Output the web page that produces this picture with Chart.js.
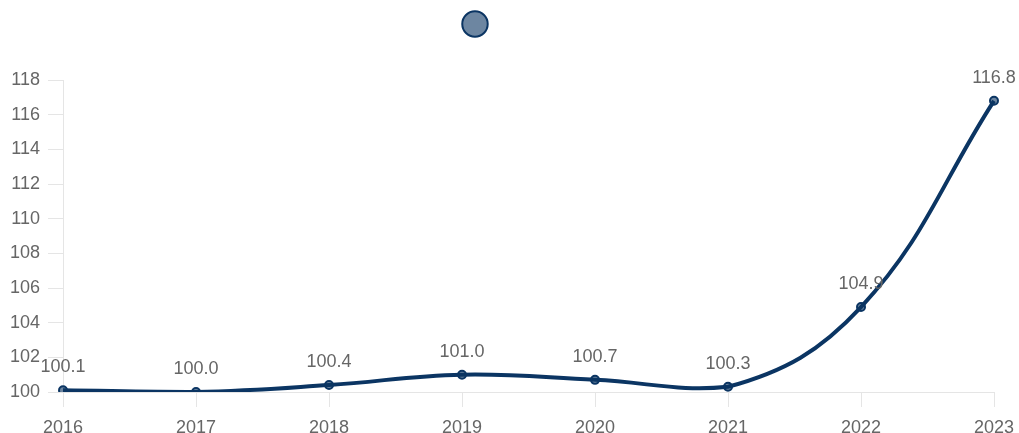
<!DOCTYPE html>
<html>
<head>
<meta charset="utf-8">
<script src="https://cdn.jsdelivr.net/npm/chart.js@4/dist/chart.umd.min.js"></script>
<style>
  html, body { margin: 0; padding: 0; background: #fff; }
  #wrap { width: 1019px; height: 433px; }
</style>
</head>
<body>
<div id="wrap"><canvas id="myChart"></canvas></div>
<script>
// données
const years = ["2016", "2017", "2018", "2019", "2020", "2021", "2022", "2023"];
const values = [100.1, 100.0, 100.4, 101.0, 100.7, 100.3, 104.9, 116.8];
const seriesName = "Volume"; // texte de légende invisible (blanc)

const navy = "#0b3563";
const fontFam = "'Liberation Sans', Arial, sans-serif";

// étiquettes au-dessus des points (pas de plugin datalabels dispo)
const valueLabels = {
  id: "valueLabels",
  afterDatasetsDraw(chart) {
    const ctx = chart.ctx;
    const meta = chart.getDatasetMeta(0);
    ctx.save();
    ctx.font = "18px " + fontFam;
    ctx.fillStyle = "#666";
    ctx.textAlign = "center";
    ctx.textBaseline = "middle";
    meta.data.forEach(function (pt, i) {
      ctx.fillText(values[i].toFixed(1), pt.x, pt.y - 23);
    });
    ctx.restore();
  },
};

// plus d'espace sous la légende
const legendMargin = {
  id: "legendMargin",
  beforeInit(chart) {
    const fit = chart.legend.fit;
    chart.legend.fit = function () {
      fit.bind(chart.legend)();
      this.height += 37;
    };
  },
};

const data = {
  labels: years,
  datasets: [
    {
      label: seriesName,
      data: values,
      borderColor: navy,
      backgroundColor: "rgba(0, 51, 102, 0.5)",
      borderWidth: 4,
      tension: 0.4,
      pointRadius: 4,
      pointBorderWidth: 2,
      pointBorderColor: navy,
      pointBackgroundColor: "rgba(11, 53, 99, 0.6)",
    },
  ],
};

const config = {
  type: "line",
  data: data,
  plugins: [valueLabels, legendMargin],
  options: {
    responsive: true,
    maintainAspectRatio: false,
    animation: false,
    layout: { padding: { left: 2, right: 2, top: 0, bottom: 0 } },
    plugins: {
      legend: {
        display: true,
        labels: {
          usePointStyle: true,
          pointStyle: "circle",
          color: "#fff",
          padding: 15,
          font: { size: 18, family: fontFam },
        },
      },
      tooltip: { enabled: false },
    },
    scales: {
      x: {
        afterFit: function (scale) {
          scale.height = 41; // axe plus bas, comme sur l'image
          scale.paddingRight = 25;
        },
        grid: { drawOnChartArea: false, tickLength: 15, color: "#e5e5e5" },
        border: { color: "#e5e5e5" },
        ticks: {
          color: "#666",
          padding: 10,
          font: { size: 18, family: fontFam },
        },
      },
      y: {
        min: 100,
        max: 118,
        grid: { drawOnChartArea: false, tickLength: 15, color: "#e5e5e5" },
        border: { color: "#e5e5e5" },
        ticks: {
          stepSize: 2,
          color: "#666",
          padding: 8,
          font: { size: 18, family: fontFam },
        },
      },
    },
  },
};

const context = document.getElementById("myChart").getContext("2d");
const chart = new Chart(context, config);
</script>
</body>
</html>
